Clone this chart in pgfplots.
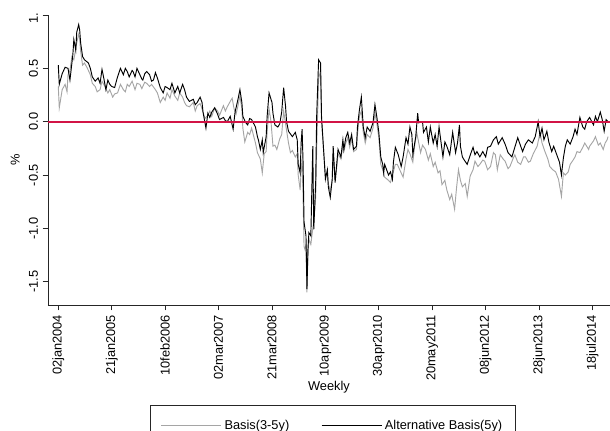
\documentclass[border=0pt]{standalone}
\usepackage{fontspec}
\setmainfont{Liberation Sans}
\usepackage{pgfplots}
\pgfplotsset{compat=1.18}
\definecolor{basisgray}{RGB}{165,165,165}
\definecolor{myred}{RGB}{210,20,70}
\begin{document}
\begin{tikzpicture}[font=\fontsize{9.6}{11.5}\selectfont]
\begin{axis}[
 at={(0pt,0pt)}, anchor=south west,
 scale only axis, width=421.5pt, height=217.5pt,
 xmin=-10.6, xmax=568, ymin=-1.718, ymax=1.0,
 axis x line*=bottom, axis y line*=left,
 axis line style={-, black!85, line width=0.6pt},
 tick align=outside, major tick length=4pt,
 tick style={black!85, line width=0.6pt},
 xtick={0,55,110,165,220,275,330,385,440,495,550},
 xticklabels={02jan2004,21jan2005,10feb2006,02mar2007,21mar2008,10apr2009,30apr2010,20may2011,08jun2012,28jun2013,18jul2014},
 xticklabel style={rotate=90, anchor=east},
 ytick={-1.5,-1,-0.5,0,0.5,1},
 yticklabels={-1.5,-1.0,-0.5,0.0,0.5,1.\phantom{0}},
 yticklabel style={rotate=90, anchor=south},
 xlabel={Weekly}, ylabel={\%},
 xlabel style={yshift=6.5pt},
 legend columns=2,
 legend style={at={(0.507,-0.345)}, anchor=north, draw=black!85, inner xsep=8pt, inner ysep=9pt, /tikz/every even column/.append style={column sep=22pt}},
 legend image code/.code={\draw[#1] (0pt,0pt) -- (45pt,0pt);},
 every axis plot/.append style={line width=0.7pt},
]
\addplot[basisgray] coordinates {
(0,0.33) (1,0.13) (4,0.30) (7,0.35) (9,0.28) (10,0.44) (12,0.48) (14,0.61) (16,0.58) (19,0.74) (21,0.82) (22,0.78) (23,0.66) (25,0.53) (27,0.55) (30,0.50) (33,0.44) (35,0.36) (38,0.33) (40,0.28) (43,0.30) (45,0.38) (48,0.33) (51,0.27) (53,0.30) (56,0.23) (58,0.26) (61,0.27) (64,0.35) (67,0.30) (69,0.28) (71,0.35) (73,0.33) (76,0.38) (79,0.30) (81,0.36) (84,0.35) (86,0.31) (89,0.37) (91,0.36) (94,0.33) (96,0.35) (100,0.30) (102,0.27) (105,0.18) (108,0.23) (110,0.20) (112,0.27) (115,0.22) (117,0.30) (120,0.24) (123,0.20) (125,0.27) (128,0.23) (130,0.18) (132,0.15) (135,0.14) (139,0.18) (141,0.10) (143,0.15) (146,0.17) (148,0.12) (151,0.03) (154,0.06) (156,0.10) (158,0.05) (161,0.13) (164,0.10) (166,0.06) (170,0.15) (172,0.10) (174,0.14) (177,0.19) (179,0.22) (181,0.12) (183,0.07) (185,0.15) (187,0.24) (189,0.12) (190,-0.06) (192,-0.19) (195,-0.10) (197,-0.12) (199,-0.06) (203,-0.20) (205,-0.29) (208,-0.35) (210,-0.48) (212,-0.30) (214,-0.28) (215,-0.10) (217,0.12) (219,0.00) (221,-0.23) (223,-0.22) (225,-0.26) (228,-0.16) (230,-0.12) (232,0.10) (234,-0.02) (237,-0.20) (239,-0.29) (241,-0.27) (244,-0.33) (246,-0.30) (247,-0.50) (249,-0.64) (250,-0.45) (251,-0.35) (252,-0.70) (253,-1.17) (254,-1.20) (255,-1.15) (256,-1.60) (257,-1.25) (258,-1.10) (260,-1.15) (262,-1.00) (263,-0.95) (265,-0.70) (266,-0.25) (268,0.40) (270,0.48) (271,0.00) (275,-0.50) (277,-0.48) (278,-0.58) (280,-0.65) (282,-0.55) (283,-0.30) (285,-0.55) (287,-0.40) (288,-0.30) (291,-0.35) (293,-0.22) (294,-0.28) (296,-0.20) (298,-0.15) (300,-0.24) (302,-0.16) (304,-0.28) (307,-0.26) (308,-0.12) (310,0.05) (312,0.10) (314,-0.10) (316,-0.20) (318,-0.12) (321,-0.15) (324,-0.06) (326,0.08) (328,-0.02) (330,-0.15) (332,-0.40) (334,-0.45) (336,-0.52) (340,-0.55) (342,-0.57) (344,-0.50) (347,-0.40) (349,-0.40) (352,-0.46) (355,-0.52) (358,-0.35) (360,-0.26) (362,-0.30) (365,-0.38) (367,-0.22) (369,-0.10) (373,-0.29) (375,-0.22) (378,-0.26) (381,-0.36) (383,-0.30) (386,-0.42) (388,-0.38) (391,-0.48) (393,-0.46) (395,-0.59) (398,-0.55) (400,-0.64) (403,-0.73) (405,-0.68) (408,-0.82) (410,-0.62) (412,-0.45) (414,-0.55) (416,-0.61) (419,-0.58) (421,-0.70) (424,-0.51) (427,-0.45) (429,-0.37) (432,-0.42) (434,-0.40) (437,-0.36) (439,-0.37) (442,-0.45) (445,-0.42) (448,-0.29) (450,-0.31) (452,-0.45) (455,-0.31) (458,-0.35) (460,-0.37) (463,-0.44) (465,-0.42) (468,-0.35) (470,-0.31) (473,-0.38) (476,-0.40) (479,-0.33) (481,-0.33) (484,-0.38) (486,-0.37) (489,-0.30) (493,-0.23) (496,-0.10) (498,-0.20) (501,-0.28) (504,-0.35) (506,-0.42) (509,-0.45) (512,-0.47) (515,-0.54) (518,-0.70) (520,-0.48) (522,-0.50) (525,-0.47) (527,-0.40) (530,-0.36) (532,-0.33) (534,-0.28) (537,-0.29) (540,-0.24) (542,-0.20) (546,-0.26) (547,-0.23) (551,-0.18) (553,-0.14) (556,-0.22) (558,-0.20) (561,-0.26) (563,-0.20) (565,-0.17) (566,-0.14)
};
\addlegendentry{Basis(3-5y)}
\addplot[black] coordinates {
(0,0.53) (1,0.35) (4,0.45) (7,0.51) (10,0.50) (12,0.39) (15,0.63) (16,0.77) (18,0.67) (19,0.84) (21,0.91) (22,0.86) (23,0.74) (25,0.61) (27,0.58) (31,0.55) (33,0.50) (35,0.42) (38,0.38) (41,0.41) (43,0.36) (45,0.49) (47,0.40) (49,0.30) (51,0.39) (53,0.35) (55,0.33) (58,0.32) (61,0.42) (64,0.50) (67,0.44) (69,0.50) (71,0.47) (73,0.42) (76,0.48) (77,0.47) (79,0.42) (81,0.50) (84,0.44) (86,0.40) (87,0.39) (89,0.45) (91,0.47) (94,0.44) (96,0.38) (98,0.39) (100,0.46) (102,0.41) (105,0.32) (108,0.27) (110,0.33) (112,0.32) (115,0.30) (117,0.36) (120,0.27) (123,0.33) (125,0.27) (128,0.35) (130,0.30) (132,0.23) (135,0.19) (139,0.21) (141,0.16) (143,0.18) (146,0.23) (148,0.18) (149,0.09) (151,-0.01) (152,-0.06) (154,0.08) (156,0.04) (158,0.09) (161,0.13) (164,0.07) (166,0.02) (170,0.04) (172,0.01) (174,0.00) (177,0.05) (180,-0.07) (182,0.09) (185,0.21) (187,0.30) (189,0.18) (190,0.05) (193,-0.01) (195,-0.03) (197,0.03) (199,0.02) (203,-0.05) (205,-0.14) (206,-0.17) (208,-0.26) (210,-0.17) (211,-0.29) (214,-0.14) (215,0.05) (217,0.27) (220,0.18) (221,0.08) (223,-0.03) (226,-0.05) (228,-0.02) (230,0.09) (232,0.32) (234,0.14) (235,0.00) (237,-0.09) (241,-0.14) (244,-0.10) (246,-0.17) (247,-0.40) (249,-0.48) (250,-0.20) (251,-0.07) (252,-0.38) (253,-0.94) (255,-1.07) (256,-1.57) (257,-1.20) (258,-1.04) (260,-1.07) (262,-0.23) (263,-1.01) (265,-0.57) (266,0.05) (268,0.58) (270,0.55) (271,0.05) (275,-0.54) (277,-0.45) (278,-0.61) (280,-0.71) (282,-0.54) (283,-0.23) (285,-0.57) (287,-0.36) (288,-0.26) (291,-0.33) (293,-0.17) (294,-0.26) (296,-0.15) (298,-0.10) (300,-0.20) (302,-0.12) (304,-0.26) (307,-0.23) (308,-0.05) (310,0.11) (312,0.23) (314,-0.05) (316,-0.15) (318,-0.05) (321,-0.09) (324,-0.01) (326,0.16) (328,0.04) (330,-0.10) (332,-0.33) (334,-0.40) (335,-0.48) (336,-0.40) (340,-0.50) (342,-0.47) (344,-0.54) (345,-0.38) (347,-0.24) (350,-0.31) (353,-0.42) (355,-0.33) (358,-0.15) (360,-0.21) (362,-0.05) (364,-0.12) (365,-0.31) (368,-0.14) (370,0.08) (371,-0.01) (375,0.00) (376,-0.10) (379,-0.05) (381,-0.19) (383,-0.05) (386,-0.20) (388,-0.12) (390,-0.23) (392,-0.05) (395,-0.26) (396,-0.33) (398,-0.19) (400,-0.23) (403,-0.31) (406,-0.10) (409,-0.29) (411,-0.20) (413,-0.03) (414,-0.23) (416,-0.33) (418,-0.36) (421,-0.40) (422,-0.37) (425,-0.29) (427,-0.24) (429,-0.31) (431,-0.28) (434,-0.33) (437,-0.28) (440,-0.33) (442,-0.24) (445,-0.23) (446,-0.21) (448,-0.17) (451,-0.14) (453,-0.21) (457,-0.15) (460,-0.21) (463,-0.29) (467,-0.33) (470,-0.24) (473,-0.15) (478,-0.28) (481,-0.21) (484,-0.17) (488,-0.20) (491,-0.14) (493,-0.05) (494,0.00) (496,-0.14) (498,-0.06) (500,-0.17) (503,-0.09) (505,-0.19) (508,-0.28) (510,-0.23) (514,-0.33) (516,-0.38) (518,-0.50) (520,-0.34) (522,-0.23) (524,-0.17) (527,-0.21) (530,-0.14) (532,-0.07) (534,-0.12) (537,0.04) (540,-0.05) (542,-0.07) (544,0.00) (547,0.04) (551,-0.03) (553,0.05) (555,0.00) (558,0.09) (560,0.02) (562,-0.09) (564,0.02) (566,0.00)
};
\addlegendentry{Alternative Basis(5y)}
\addplot[myred, line width=1.5pt] coordinates {(-10.6,0) (568,0)};
\end{axis}
\pgfresetboundingbox
\path[use as bounding box] (-36pt,-94.5pt) rectangle (421.5pt,228.75pt);
\end{tikzpicture}
\end{document}
